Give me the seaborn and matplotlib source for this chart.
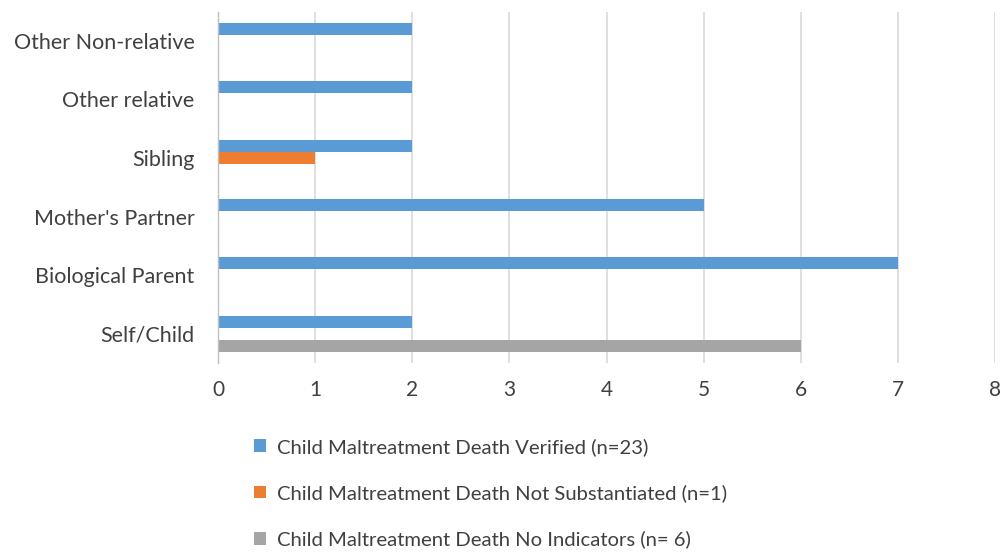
import matplotlib
matplotlib.use("Agg")
import matplotlib.pyplot as plt
import seaborn as sns
import pandas as pd

# Relationship of person responsible to the child
categories = ["Other Non-relative", "Other relative", "Sibling",
              "Mother's Partner", "Biological Parent", "Self/Child"]
series_names = ["Child Maltreatment Death Verified (n=23)",
                "Child Maltreatment Death Not Substantiated (n=1)",
                "Child Maltreatment Death No Indicators (n= 6)"]
verified = [2, 2, 2, 5, 7, 2]
not_substantiated = [0, 0, 1, 0, 0, 0]
no_indicators = [0, 0, 0, 0, 0, 6]
x_ticks = [0, 1, 2, 3, 4, 5, 6, 7, 8]

colors = ["#5B9BD5", "#ED7D31", "#A5A5A5"]

rows = []
for name, vals in zip(series_names, [verified, not_substantiated, no_indicators]):
    for cat, v in zip(categories, vals):
        rows.append({"Relationship": cat, "Count": v, "Status": name})
df = pd.DataFrame(rows)

sns.set_theme(style="white")
plt.rcParams["font.family"] = ["Lato", "DejaVu Sans"]

fig = plt.figure(figsize=(10.02, 5.52), dpi=100)
ax = fig.add_axes([0.2176, 0.342, 0.7754, 0.637])

sns.barplot(data=df, y="Relationship", x="Count", hue="Status",
            order=categories, hue_order=series_names, palette=colors,
            orient="h", width=0.615, linewidth=0, saturation=1,
            errorbar=None, ax=ax, legend=True)

ax.set_xlim(0, 8)
ax.set_xticks(x_ticks)
ax.set_xticklabels([str(t) for t in x_ticks], fontsize=15, color="#404040")
ax.set_yticklabels(categories, fontsize=15.5, color="#404040")
ax.set_xlabel("")
ax.set_ylabel("")
ax.tick_params(axis="x", length=0, pad=12)
ax.tick_params(axis="y", length=0, pad=17)
ax.grid(axis="x", color="#D9D9D9", linewidth=1.2)
ax.set_axisbelow(True)
for side in ["top", "right", "bottom"]:
    ax.spines[side].set_visible(False)
ax.spines["left"].set_color("#BFBFBF")
ax.spines["left"].set_linewidth(1)

handles, labels = ax.get_legend_handles_labels()
ax.get_legend().remove()
fig.legend(handles, labels, loc="upper left",
           bbox_to_anchor=(244 / 1002, 1 - 428 / 552),
           frameon=False, fontsize=14.6, labelcolor="#404040",
           handlelength=0.6, handleheight=0.6, handletextpad=0.55,
           labelspacing=1.39, borderpad=0)

fig.savefig("out.png", dpi=100)
